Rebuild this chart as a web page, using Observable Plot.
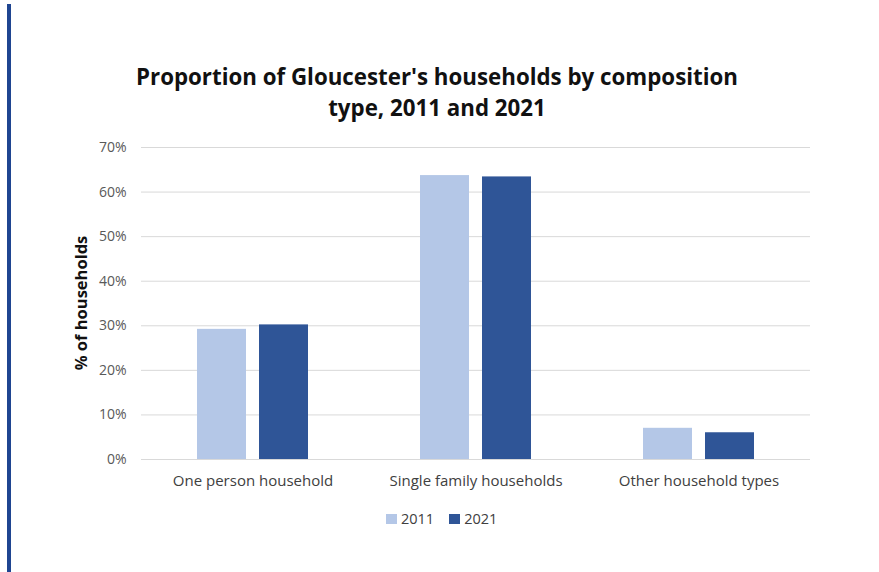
<!DOCTYPE html>
<html>
<head>
<meta charset="utf-8">
<script src="https://cdn.jsdelivr.net/npm/d3@7"></script>
<script src="https://cdn.jsdelivr.net/npm/@observablehq/plot@0.6"></script>
<style>
  html, body { margin: 0; padding: 0; background: #fff; }
  #page { position: relative; width: 879px; height: 572px; overflow: hidden; font-family: "Open Sans", sans-serif; }
  #edge { position: absolute; left: 7px; top: 4px; width: 4px; height: 580px; background: #1f4591; }
  #title { position: absolute; left: 0; width: 874px; top: 61px; text-align: center; font-weight: 700; font-size: 22.3px; line-height: 31px; color: #111; }
  #chart { position: absolute; left: 0; top: 130px; }
  #ylabel { position: absolute; left: 80px; top: 303px; transform: translate(-50%, -50%) rotate(-90deg); font-weight: 700; font-size: 16.5px; color: #111; white-space: nowrap; }
  #legend { position: absolute; left: 386px; top: 509px; display: flex; align-items: center; font-size: 14.5px; color: #404040; }
  #legend .sw { width: 11px; height: 10px; display: inline-block; margin-right: 4px; }
  #legend .item { display: flex; align-items: center; margin-right: 15px; }
</style>
</head>
<body>
<div id="page">
  <div id="edge"></div>
  <div id="title">Proportion of Gloucester's households by composition<br>type, 2011 and 2021</div>
  <div id="chart"></div>
  <div id="ylabel">% of households</div>
  <div id="legend"></div>
</div>
<script>
const categories = ["One person household", "Single family households", "Other household types"];
const years = ["2011", "2021"];
const values2011 = [29.2, 63.7, 7.0];
const values2021 = [30.2, 63.4, 6.0];
const yTicks = [0, 10, 20, 30, 40, 50, 60, 70];
const colors = ["#b4c7e7", "#2f5597"];

const data = [];
categories.forEach((c, i) => {
  data.push({category: c, year: years[0], value: values2011[i]});
  data.push({category: c, year: years[1], value: values2021[i]});
});

const chart = Plot.plot({
  width: 879,
  height: 370,
  marginTop: 17,
  marginBottom: 41,
  marginLeft: 140,
  marginRight: 69,
  style: {fontFamily: "Open Sans, sans-serif", background: "transparent"},
  fx: {domain: categories, padding: 0, label: null, axis: null},
  x: {domain: years, paddingInner: 0.214, paddingOuter: 0.88, axis: null},
  y: {domain: [0, 70], label: null},
  color: {domain: years, range: colors},
  marks: [
    Plot.gridY(yTicks, {stroke: "#d9d9d9", strokeOpacity: 1}),
    Plot.axisY(yTicks, {tickSize: 0, tickPadding: 15, tickFormat: d => d + "%", fontSize: 14, fill: "#595959", label: null}),
    Plot.barY(data, {fx: "category", x: "year", y: "value", fill: "year"}),
    Plot.axisFx({anchor: "bottom", tickSize: 0, tickPadding: 16, fontSize: 15, fill: "#404040", label: null})
  ]
});
document.getElementById("chart").appendChild(chart);

const legend = document.getElementById("legend");
years.forEach((y, i) => {
  const item = document.createElement("span");
  item.className = "item";
  const sw = document.createElement("span");
  sw.className = "sw";
  sw.style.background = colors[i];
  item.appendChild(sw);
  item.appendChild(document.createTextNode(y));
  legend.appendChild(item);
});
</script>
</body>
</html>
